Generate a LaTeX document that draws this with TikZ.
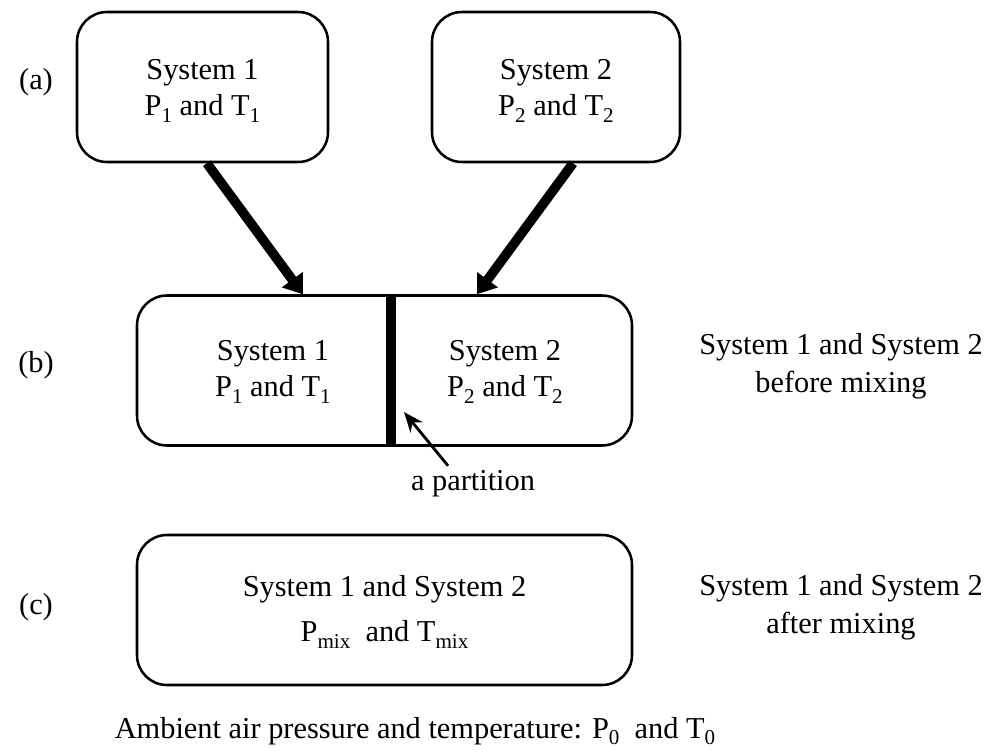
\documentclass[tikz,border=0pt]{standalone}
\usepackage{fontspec}
\setmainfont{Liberation Serif}
\usetikzlibrary{arrows.meta}
\usetikzlibrary{calc}
\newcommand{\diagfont}{\fontsize{21.6}{25.6}\selectfont}
\newcommand{\lowidx}[1] % subscript in text font, set a bit lower
{\raisebox{-0.45ex}{\fontsize{15}{15}\selectfont #1}}
\tikzset{
	sysbox/.style={draw, line width=1.8pt, rounded corners=7.5mm, minimum height=37.5mm, inner sep=0pt},
	systext/.style={align=center, font=\diagfont},
	fatarrow/.style={line width=2.4mm, -{Triangle[length=4.5mm, width=6.2mm]}},
	partition/.style={line width=2.5mm},
	thinarrow/.style={line width=2pt, -{Stealth[length=5mm, width=4mm]}}
}

\begin{document}
\begin{tikzpicture}[x=0.25mm, y=-0.25mm]
	% picture 992 x 755, 1 unit = 1 px
	\useasboundingbox (0,0) rectangle (992,755);

	% (a) two separate systems
	\node[sysbox, minimum width=62.75mm] (sysA) at (202.5,87) {};
	\node[systext] (sysAtxt) at ([yshift=-1mm]sysA) {System 1\\P\lowidx{1} and T\lowidx{1}};
	\node[sysbox, minimum width=62mm] (sysB) at (556,87) {};
	\node[systext] (sysBtxt) at ([yshift=-1mm]sysB) {System 2\\P\lowidx{2} and T\lowidx{2}};

	% (b) before mixing
	\node[sysbox, minimum width=123.75mm] (both) at (384.5,370.5) {};
	\node[systext] (bothA) at (273,372) {System 1\\P\lowidx{1} and T\lowidx{1}};
	\node[systext] (bothB) at (505,372) {System 2\\P\lowidx{2} and T\lowidx{2}};
	\coordinate (wall) at (391,0);
	\draw[partition] (both.north -| wall) -- (both.south -| wall);

	% (c) after mixing
	\node[sysbox, minimum width=123.75mm] (mixed) at (384.5,610) {};
	\node[systext, font=\fontsize{21.6}{32}\selectfont] (mixedtxt) at ([yshift=-0.5mm]mixed) {System 1 and System 2\\P\lowidx{mix}\ \ and T\lowidx{mix}};

	% arrows into the partitioned box
	\draw[fatarrow] ([xshift=1.1mm]sysA.south) -- ([xshift=-20.4mm]both.north);
	\draw[fatarrow] ([xshift=4.25mm]sysB.south) -- ([xshift=23.1mm]both.north);

	% partition label
	\node[systext] (plabel) at (473,484) {a partition};
	\coordinate (ptip) at (404,412);
	\draw[thinarrow] ([xshift=-6.25mm]plabel.north) -- (ptip);

	% row labels
	\node[systext] (rowa) at (36,82) {(a)};
	\node[systext] (rowb) at (36,365) {(b)};
	\node[systext] (rowc) at (36,607) {(c)};

	% side notes
	\node[systext, font=\fontsize{21.6}{27}\selectfont] (before) at (841,366) {System 1 and System 2\\before mixing};
	\node[systext, font=\fontsize{21.6}{27}\selectfont] (after) at (841,607) {System 1 and System 2\\after mixing};

	% ambient conditions
	\node[systext] (ambient) at (415,731) {Ambient air pressure and temperature: P\lowidx{0}\ \ and T\lowidx{0}};
\end{tikzpicture}
\end{document}
